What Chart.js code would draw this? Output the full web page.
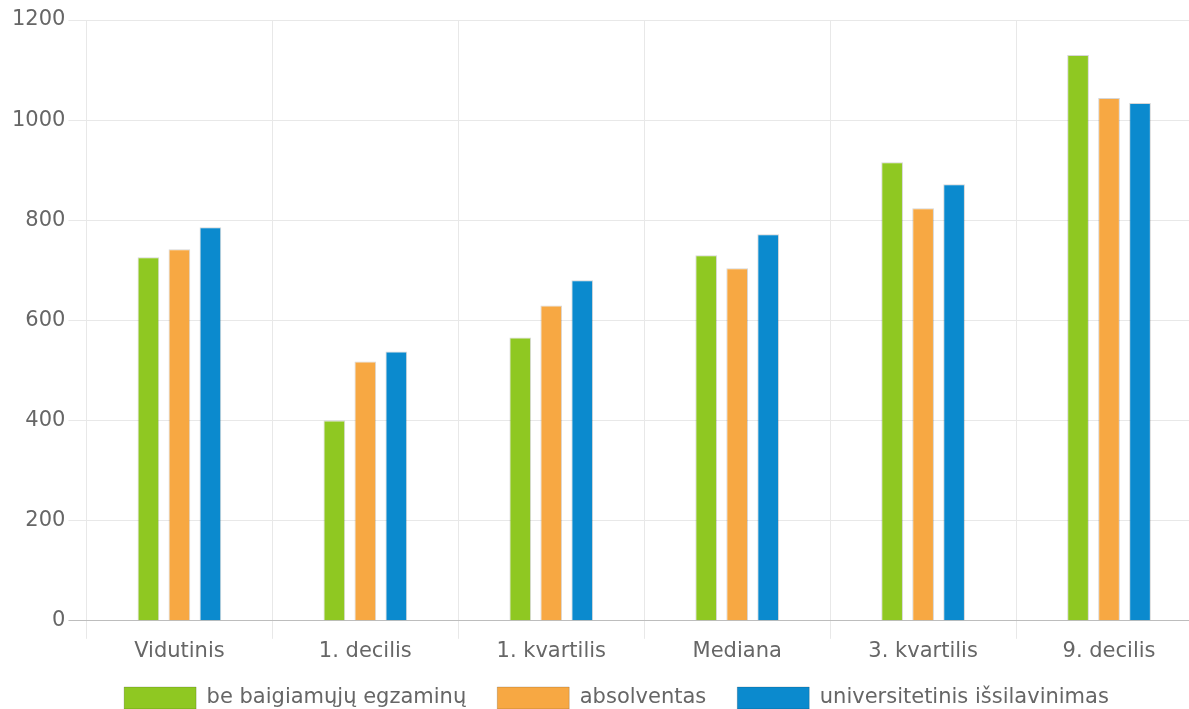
<!DOCTYPE html>
<html>
<head>
<meta charset="utf-8">
<script src="https://cdn.jsdelivr.net/npm/chart.js@4/dist/chart.umd.min.js"></script>
<style>
    html, body { margin: 0; padding: 0; overflow: hidden; background: #fff; }
    #wrap { position: absolute; left: 0; top: 0; width: 1224px; height: 727px; }
</style>
</head>
<body>
<div id="wrap"><canvas id="atlyginimai"></canvas></div>
<script>
// Kategorijos (x ašis)
const categories = ['Vidutinis', '1. decilis', '1. kvartilis', 'Mediana', '3. kvartilis', '9. decilis'];

// Serijų reikšmės
const beEgzaminu = [726, 400, 566, 730, 916, 1130];
const absolventas = [742, 518, 630, 704, 824, 1044];
const universitetinis = [786, 538, 680, 772, 872, 1034];

// Serijų pavadinimai
const seriesNames = ['be baigiamųjų egzaminų', 'absolventas', 'universitetinis išsilavinimas'];

// Y ašies žymės
const yTicks = [0, 200, 400, 600, 800, 1000, 1200];

const colors = ['#8fc822', '#f7a843', '#0b8ace'];
const textColor = '#666666';
const fontFamily = '"DejaVu Sans", Verdana, sans-serif';

const makeDataset = (label, data, color) => ({
    label: label,
    data: data,
    backgroundColor: color,
    borderColor: 'rgba(0, 0, 0, 0.16)',
    borderWidth: 1,
    categoryPercentage: 0.5,
    barPercentage: 0.7
});

// Legendą pakelia truputį arčiau ašies
const legendShift = {
    id: 'legendShift',
    afterInit(chart) {
        const legend = chart.legend;
        const origDraw = legend.draw;
        legend.draw = function (area) {
            this.ctx.save();
            this.ctx.translate(0, -8);
            origDraw.call(this, area);
            this.ctx.restore();
        };
    }
};

const ctx = document.getElementById('atlyginimai').getContext('2d');
new Chart(ctx, {
    type: 'bar',
    data: {
        labels: categories,
        datasets: [
            makeDataset(seriesNames[0], beEgzaminu, colors[0]),
            makeDataset(seriesNames[1], absolventas, colors[1]),
            makeDataset(seriesNames[2], universitetinis, colors[2])
        ]
    },
    plugins: [legendShift],
    options: {
        responsive: true,
        maintainAspectRatio: false,
        animation: false,
        layout: { padding: { top: 20, left: 9, right: 0, bottom: 0 } },
        plugins: {
            tooltip: { enabled: false },
            legend: {
                position: 'bottom',
                labels: {
                    boxWidth: 72,
                    boxHeight: 22,
                    padding: 31,
                    color: textColor,
                    font: { family: fontFamily, size: 21 }
                }
            }
        },
        scales: {
            x: {
                grid: {
                    color: '#e8e8e8',
                    tickLength: 18,
                    offset: true
                },
                border: { color: '#bdbdbd' },
                ticks: {
                    color: textColor,
                    padding: 0,
                    font: { family: fontFamily, size: 21 }
                }
            },
            y: {
                min: 0,
                max: 1200,
                afterBuildTicks: (axis) => {
                    axis.ticks = yTicks.map(v => ({ value: v }));
                },
                grid: {
                    color: (c) => c.tick && c.tick.value === 0 ? '#bdbdbd' : '#e8e8e8',
                    tickLength: 18
                },
                border: { display: false },
                ticks: {
                    color: textColor,
                    padding: 3,
                    font: { family: fontFamily, size: 21 },
                    callback: (v) => String(v)
                }
            },
            // tuščia vieta dešinėje
            yRight: {
                type: 'linear',
                position: 'right',
                afterFit: (scale) => { scale.width = 22; },
                grid: { display: false },
                border: { display: false },
                ticks: { display: false }
            }
        }
    }
});
</script>
</body>
</html>
